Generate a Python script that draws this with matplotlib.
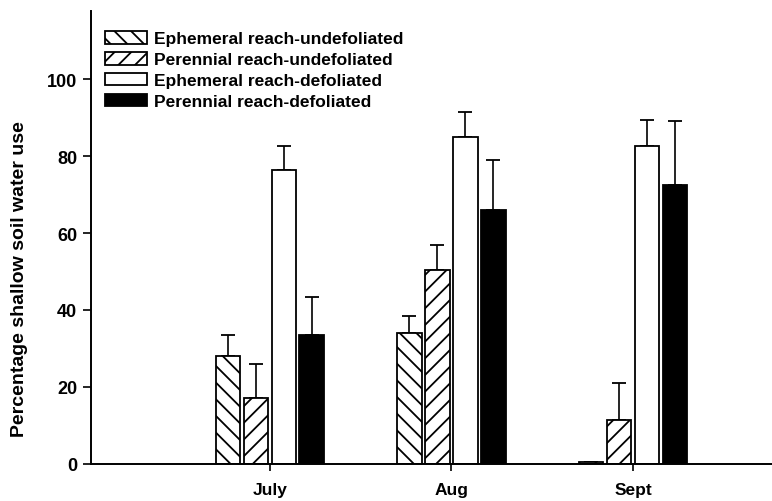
import matplotlib.pyplot as plt
import numpy as np

plt.rcParams['font.family'] = ['Liberation Sans', 'DejaVu Sans']
plt.rcParams['hatch.linewidth'] = 1.3

months = ["July", "Aug", "Sept"]
series = [
    "Ephemeral reach-undefoliated",
    "Perennial reach-undefoliated",
    "Ephemeral reach-defoliated",
    "Perennial reach-defoliated",
]
eph_undef = [28, 34, 0.5]
per_undef = [17, 50.5, 11.5]
eph_def = [76.5, 85, 82.5]
per_def = [33.5, 66, 72.5]
eph_undef_err = [5.5, 4.5, 0]
per_undef_err = [9, 6.5, 9.5]
eph_def_err = [6, 6.5, 7]
per_def_err = [10, 13, 16.5]

values = [eph_undef, per_undef, eph_def, per_def]
errors = [eph_undef_err, per_undef_err, eph_def_err, per_def_err]
hatches = ["\\\\", "//", "", ""]
faces = ["white", "white", "white", "black"]

fig = plt.figure(figsize=(7.72, 5.02), dpi=100)
ax = fig.add_axes([0.118, 0.074, 0.882, 0.902])

x = np.arange(1, len(months) + 1)
step = 0.154
width = 0.136
offsets = (np.arange(4) - 1.5) * step

for i in range(4):
    ax.bar(x + offsets[i], values[i], width, color=faces[i], edgecolor="black",
           hatch=hatches[i], linewidth=1.3, label=series[i], zorder=2)
    err = np.array(errors[i])
    ax.errorbar(x + offsets[i], values[i], yerr=[np.zeros_like(err), err],
                fmt="none", ecolor="black", elinewidth=1.2, capsize=5,
                capthick=1.3, zorder=1)

ax.set_xlim(0.015, 3.766)
ax.set_ylim(0, 117.7)
ax.set_xticks(x)
ax.set_xticklabels(months, fontsize=12.5, fontweight="bold")
ax.set_yticks([0, 20, 40, 60, 80, 100])
ax.set_yticklabels(["0", "20", "40", "60", "80", "100"], fontsize=13,
                   fontweight="bold")
ax.tick_params(axis="y", direction="out", length=6, width=1.2, pad=4)
ax.tick_params(axis="x", direction="out", length=5, width=1.2, pad=8)
ax.set_ylabel("Percentage shallow soil water use", fontsize=14,
              fontweight="bold")
ax.yaxis.set_label_coords(-0.092, 0.41)

for side in ["top", "right"]:
    ax.spines[side].set_visible(False)
for side in ["left", "bottom"]:
    ax.spines[side].set_linewidth(1.4)

ax.legend(loc="upper left", bbox_to_anchor=(0.0, 0.987), frameon=False,
          prop={"size": 12.5, "weight": "bold"}, handlelength=2.4,
          handleheight=0.75, labelspacing=0.32, handletextpad=0.45,
          borderaxespad=0.4)

plt.savefig("out.png", dpi=100)
